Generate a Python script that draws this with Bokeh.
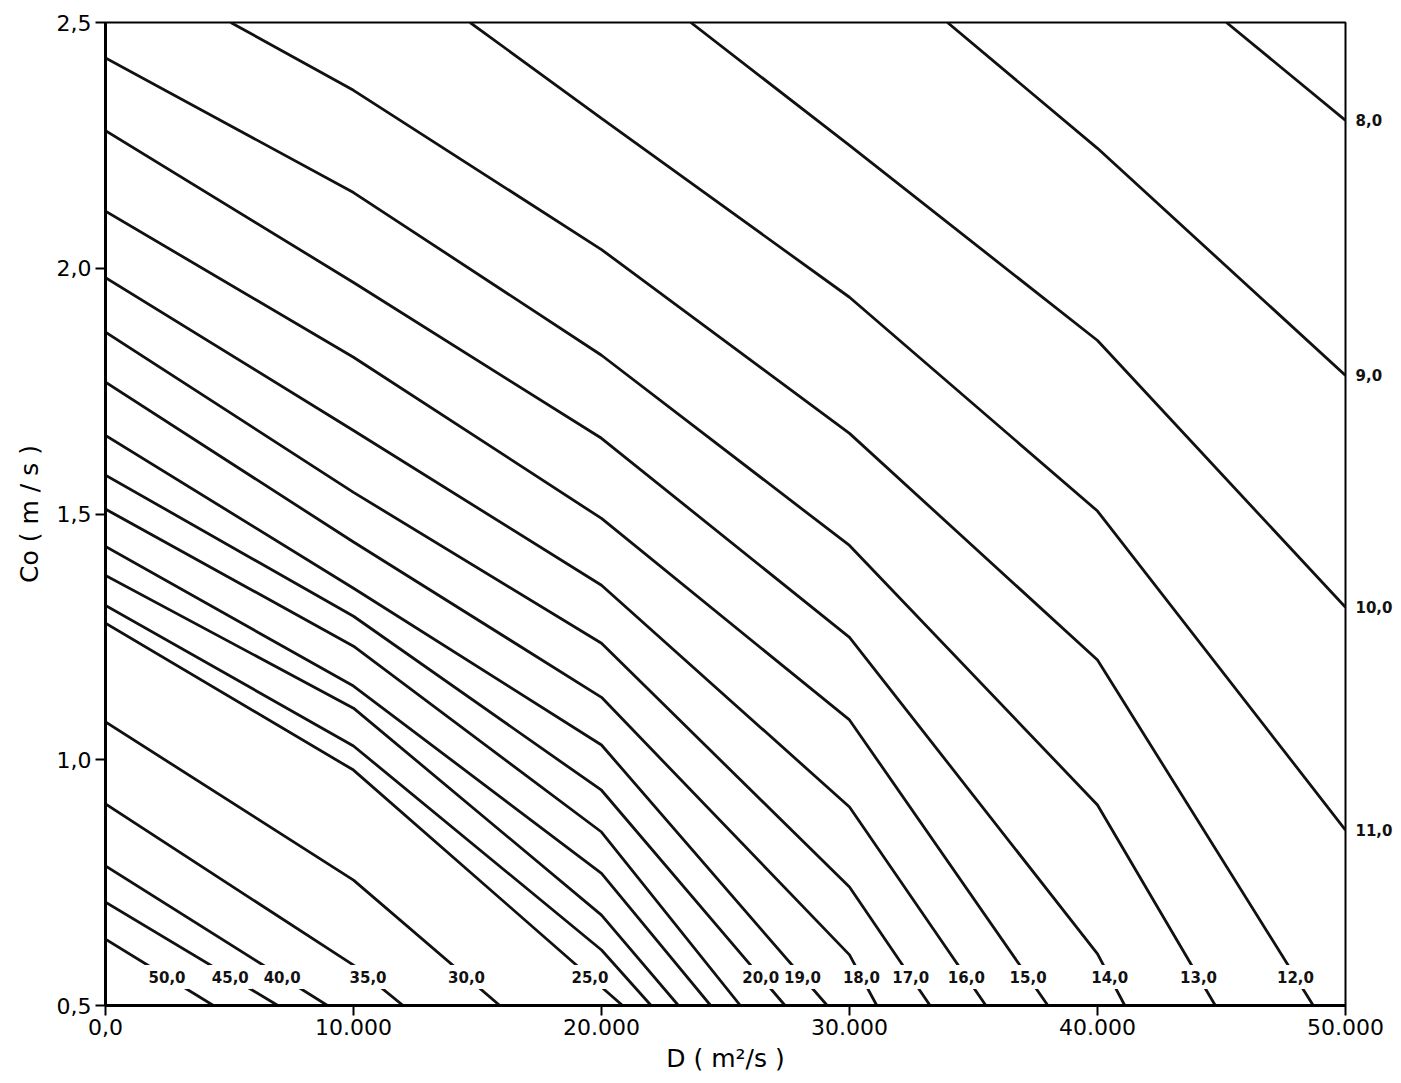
import math
import numpy as np
from bokeh.plotting import figure
from bokeh.models import Range1d, FixedTicker, LinearAxis
from bokeh.core.properties import value
from bokeh.embed import file_html
from bokeh.resources import INLINE

nan = float("nan")

# Iso-lines of the result as a function of D (m2/s) and Co (m/s)
levels = [8, 9, 10, 11, 12, 13, 14, 15, 16, 17, 18, 19, 20, 21, 22, 23, 24, 25, 30, 35, 40, 45, 50]

# Co value where each iso-line crosses the grid columns D = 0, 10.000, ..., 50.000
co_d0 = [nan, nan, nan, nan, nan, 2.428, 2.280, 2.116, 1.981, 1.870, 1.768, 1.660,
         1.579, 1.510, 1.434, 1.375, 1.314, 1.278, 1.077, 0.910, 0.784, 0.710, 0.635]
co_d10 = [nan, nan, nan, nan, 2.362, 2.154, 1.971, 1.819, 1.670, 1.544, 1.443, 1.349,
          1.292, 1.231, 1.150, 1.105, 1.028, 0.979, 0.755, 0.582, nan, nan, nan]
co_d20 = [nan, nan, nan, 2.305, 2.038, 1.823, 1.654, 1.491, 1.355, 1.237, 1.127, 1.030,
          0.938, 0.853, 0.769, 0.684, 0.613, nan, nan, nan, nan, nan, nan]
co_d30 = [nan, nan, 2.250, 1.941, 1.664, 1.436, 1.249, 1.081, 0.904, 0.741, 0.603, nan,
          nan, nan, nan, nan, nan, nan, nan, nan, nan, nan, nan]
co_d40 = [nan, 2.244, 1.853, 1.506, 1.203, 0.908, 0.605, nan, nan, nan, nan, nan,
          nan, nan, nan, nan, nan, nan, nan, nan, nan, nan, nan]
co_d50 = [2.301, 1.782, 1.310, 0.857, nan, nan, nan, nan, nan, nan, nan, nan,
          nan, nan, nan, nan, nan, nan, nan, nan, nan, nan, nan]

# D where the line leaves through the top (Co = 2,5) or bottom (Co = 0,5) edge
d_top = [45200, 33950, 23600, 14700, 5050, nan, nan, nan, nan, nan, nan, nan,
         nan, nan, nan, nan, nan, nan, nan, nan, nan, nan, nan]
d_bottom = [nan, nan, nan, nan, 48700, 44750, 41100, 38000, 35500, 33250, 31100, 29100,
            27400, 25600, 24400, 23100, 22000, 20850, 15900, 12000, 8950, 6950, 4350]

grid_d = [0, 10000, 20000, 30000, 40000, 50000]
grid_cols = [co_d0, co_d10, co_d20, co_d30, co_d40, co_d50]

labelled_bottom = [12, 13, 14, 15, 16, 17, 18, 19, 20, 25, 30, 35, 40, 45, 50]
labelled_right = [8, 9, 10, 11]
bottom_label_co = 0.558

d_min, d_max = 0, 50000
co_min, co_max = 0.5, 2.5
x_ticks = [0, 10000, 20000, 30000, 40000, 50000]
x_tick_labels = ["0,0", "10.000", "20.000", "30.000", "40.000", "50.000"]
y_ticks = [0.5, 1.0, 1.5, 2.0, 2.5]
y_tick_labels = ["0,5", "1,0", "1,5", "2,0", "2,5"]


def fmt(v):
    return f"{v:.1f}".replace(".", ",")


def key(t):
    return int(t) if float(t).is_integer() else t


xs_all, ys_all = [], []
for i, lev in enumerate(levels):
    pts = []
    if not math.isnan(d_top[i]):
        pts.append((d_top[i], co_max))
    for d, col in zip(grid_d, grid_cols):
        if not math.isnan(col[i]):
            pts.append((d, col[i]))
    if not math.isnan(d_bottom[i]):
        pts.append((d_bottom[i], co_min))
    pts.sort()
    xs_all.append([p[0] for p in pts])
    ys_all.append([p[1] for p in pts])

FONT = "DejaVu Sans"

p = figure(
    frame_width=1240, frame_height=983,
    min_border_left=105, min_border_right=56, min_border_top=22, min_border_bottom=78,
    x_range=Range1d(d_min, d_max), y_range=Range1d(co_min, co_max),
    output_backend="svg", toolbar_location=None,
    background_fill_color="white", border_fill_color="white",
)
p.grid.visible = False
p.outline_line_color = "black"
p.outline_line_width = 2

p.multi_line(xs_all, ys_all, line_color="#111111", line_width=2.8)

# labels along the bottom, with a white gap in the line behind them
bx, by, bt = [], [], []
for i, lev in enumerate(levels):
    if lev in labelled_bottom:
        xs, ys = xs_all[i], ys_all[i]
        bx.append(float(np.interp(bottom_label_co, ys[::-1], xs[::-1])))
        by.append(bottom_label_co)
        bt.append(fmt(lev))
p.rect(bx, by, width=44, height=24, width_units="screen", height_units="screen",
       fill_color="white", line_color=None)
p.text(bx, by, text=bt, text_align="center", text_baseline="middle",
       text_font=value(FONT), text_font_style="bold", text_font_size="15px",
       text_color="#111111")

# labels at the right edge, carried by a bare axis on that side
r_ticks, r_labels = [], []
for i, lev in enumerate(levels):
    if lev in labelled_right:
        r_ticks.append(co_d50[i])
        r_labels.append(fmt(lev))
right_axis = LinearAxis(
    ticker=FixedTicker(ticks=r_ticks),
    major_label_overrides={key(t): s for t, s in zip(r_ticks, r_labels)},
    axis_line_color=None, major_tick_line_color=None, minor_tick_line_color=None,
    major_tick_in=0, major_tick_out=0, major_label_standoff=10,
    major_label_text_font=FONT, major_label_text_font_style="bold",
    major_label_text_font_size="15px", major_label_text_color="#111111",
)
p.add_layout(right_axis, "right")

# main axes
for ax in (p.xaxis[0], p.yaxis[0]):
    ax.axis_line_width = 3
    ax.axis_line_color = "black"
    ax.major_tick_line_width = 2
    ax.major_tick_line_color = "black"
    ax.major_tick_in = 0
    ax.major_tick_out = 10
    ax.minor_tick_line_color = None
    ax.major_label_text_font = FONT
    ax.major_label_text_font_size = "22px"
    ax.major_label_text_color = "black"
    ax.axis_label_text_font = FONT
    ax.axis_label_text_font_size = "25px"
    ax.axis_label_text_font_style = "normal"
    ax.axis_label_text_color = "black"

p.xaxis[0].ticker = FixedTicker(ticks=x_ticks)
p.xaxis[0].major_label_overrides = {key(t): s for t, s in zip(x_ticks, x_tick_labels)}
p.xaxis[0].major_label_standoff = 3
p.xaxis[0].axis_label = "D ( m²/s )"
p.xaxis[0].axis_label_standoff = 6

p.yaxis[0].ticker = FixedTicker(ticks=y_ticks)
p.yaxis[0].major_label_overrides = {key(t): s for t, s in zip(y_ticks, y_tick_labels)}
p.yaxis[0].major_label_standoff = 4
p.yaxis[0].axis_label = "Co ( m / s )"
p.yaxis[0].axis_label_standoff = 10

open("out.html", "w").write(file_html(p, INLINE))
